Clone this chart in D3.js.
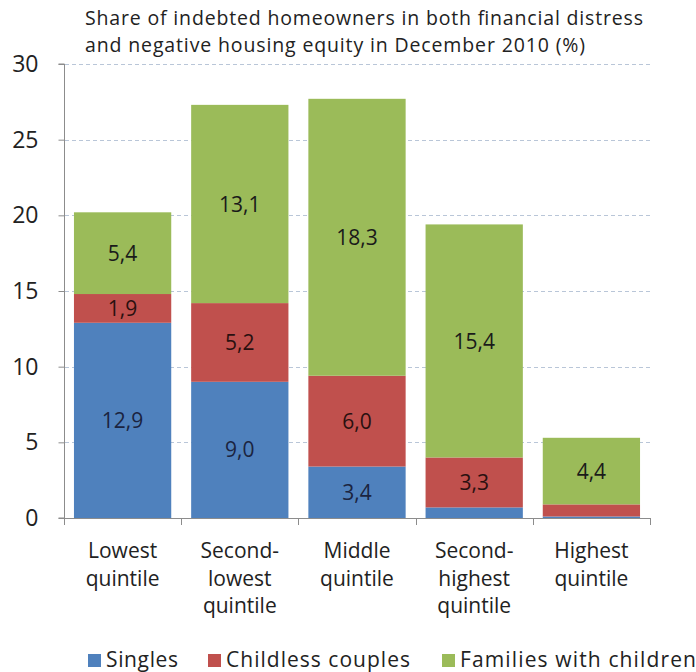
<!DOCTYPE html>
<html>
<head>
<meta charset="utf-8">
<script src="https://cdn.jsdelivr.net/npm/d3@7"></script>
<style>
  html, body { margin: 0; padding: 0; background: #fff; }
  svg { display: block; font-family: "Open Sans", Lato, sans-serif; }
</style>
</head>
<body>
<svg id="chart" width="696" height="672"></svg>
<script>
// Income quintiles (x categories), each label split into lines
const categories = ["Lowest quintile", "Second-lowest quintile", "Middle quintile", "Second-highest quintile", "Highest quintile"];
const categoryLines = [["Lowest", "quintile"], ["Second-", "lowest", "quintile"], ["Middle", "quintile"], ["Second-", "highest", "quintile"], ["Highest", "quintile"]];

// Household types (stacked series, bottom to top)
const seriesNames = ["Singles", "Childless couples", "Families with children"];
const singles = [12.9, 9.0, 3.4, 0.7, 0.1];
const childlessCouples = [1.9, 5.2, 6.0, 3.3, 0.8];
const familiesWithChildren = [5.4, 13.1, 18.3, 15.4, 4.4];

// Which segments carry a value label (small ones are left blank)
const showSingles = [true, true, true, false, false];
const showCouples = [true, true, true, true, false];
const showFamilies = [true, true, true, true, true];

const yTicks = [0, 5, 10, 15, 20, 25, 30];
const titleLines = ["Share of indebted homeowners in both financial distress", "and negative housing equity in December 2010 (%)"];

const colors = ["#4F81BD", "#C0504D", "#9BBB59"];

const svg = d3.select("#chart");
const margin = { left: 64, right: 46, top: 64, bottom: 154 };
const W = 696, H = 672;
const plotW = W - margin.left - margin.right;
const plotBottom = H - margin.bottom;

const x = d3.scaleBand().domain(categories).range([margin.left, margin.left + plotW]).paddingInner(0.17).paddingOuter(0.085);
const y = d3.scaleLinear().domain([0, 30]).range([plotBottom, margin.top]);

// Title (two lines, stretched to the chart's title width)
const titleLen = [558, 500];
svg.append("g").selectAll("text").data(titleLines).join("text")
  .attr("x", 85).attr("y", (d, i) => 25 + i * 27)
  .attr("font-size", 19.5).attr("fill", "#222")
  .attr("textLength", (d, i) => titleLen[i]).attr("lengthAdjust", "spacing")
  .text(d => d);

// Dashed gridlines
svg.append("g").selectAll("line").data(yTicks.filter(t => t > 0)).join("line")
  .attr("x1", margin.left + 1).attr("x2", margin.left + plotW)
  .attr("y1", d => Math.round(y(d)) + 0.5).attr("y2", d => Math.round(y(d)) + 0.5)
  .attr("stroke", "#b9c6d8").attr("stroke-width", 1).attr("stroke-dasharray", "4,3");

// Stacked bars
const rows = categories.map((c, i) => ({ cat: c, s0: singles[i], s1: childlessCouples[i], s2: familiesWithChildren[i] }));
const stack = d3.stack().keys(["s0", "s1", "s2"]);
const layers = stack(rows);
const shows = [showSingles, showCouples, showFamilies];
const labelColors = ["#1b2440", "#2a1010", "#1a1a1a"];

layers.forEach((layer, k) => {
  svg.append("g").selectAll("rect").data(layer).join("rect")
    .attr("x", d => x(d.data.cat))
    .attr("width", x.bandwidth())
    .attr("y", d => y(d[1]))
    .attr("height", d => y(d[0]) - y(d[1]))
    .attr("fill", colors[k]);
});

layers.forEach((layer, k) => {
  svg.append("g").selectAll("text").data(layer.filter((d, i) => shows[k][i])).join("text")
    .attr("x", d => x(d.data.cat) + x.bandwidth() / 2)
    .attr("y", d => (y(d[0]) + y(d[1])) / 2)
    .attr("dy", "0.36em")
    .attr("text-anchor", "middle")
    .attr("font-size", 21).attr("fill", labelColors[k])
    .text(d => d3.format(".1f")(d[1] - d[0]).replace(".", ","));
});

// Y axis
const yAxis = svg.append("g").attr("transform", `translate(${margin.left + 0.5},0)`)
  .call(d3.axisLeft(y).tickValues(yTicks).tickSize(6).tickPadding(20).tickFormat(d3.format("d")));
yAxis.select(".domain").attr("stroke", "#8c8c8c").attr("d", `M-6,${y(30)}H0V${plotBottom}H-6`);
yAxis.selectAll(".tick line").attr("stroke", "#8c8c8c");
yAxis.selectAll(".tick text").attr("font-size", 23).attr("fill", "#222").attr("font-family", "'Open Sans', sans-serif");

// X axis: baseline with ticks between categories
const xg = svg.append("g");
xg.append("line").attr("x1", margin.left).attr("x2", margin.left + plotW)
  .attr("y1", plotBottom + 0.5).attr("y2", plotBottom + 0.5).attr("stroke", "#8c8c8c");
const bounds = d3.range(categories.length + 1).map(i => margin.left + i * plotW / categories.length);
xg.selectAll("line.tk").data(bounds).join("line").attr("class", "tk")
  .attr("x1", d => Math.round(d) + 0.5).attr("x2", d => Math.round(d) + 0.5)
  .attr("y1", plotBottom).attr("y2", plotBottom + 7).attr("stroke", "#8c8c8c");

// Category labels
categories.forEach((c, i) => {
  const cx = x(c) + x.bandwidth() / 2;
  const t = svg.append("text").attr("text-anchor", "middle").attr("font-size", 21).attr("fill", "#222");
  categoryLines[i].forEach((ln, j) => {
    t.append("tspan").attr("x", cx).attr("y", 558 + j * 27.5).text(ln);
  });
});

// Legend
const legendX = [88, 208, 442];
const legendLen = [72, 184, 236];
const lg = svg.append("g");
seriesNames.forEach((n, i) => {
  lg.append("rect").attr("x", legendX[i]).attr("y", 654).attr("width", 13).attr("height", 13).attr("fill", colors[i]);
  lg.append("text").attr("x", legendX[i] + 18).attr("y", 667).attr("font-size", 21).attr("fill", "#222")
    .attr("textLength", legendLen[i]).attr("lengthAdjust", "spacing").text(n);
});
</script>
</body>
</html>
